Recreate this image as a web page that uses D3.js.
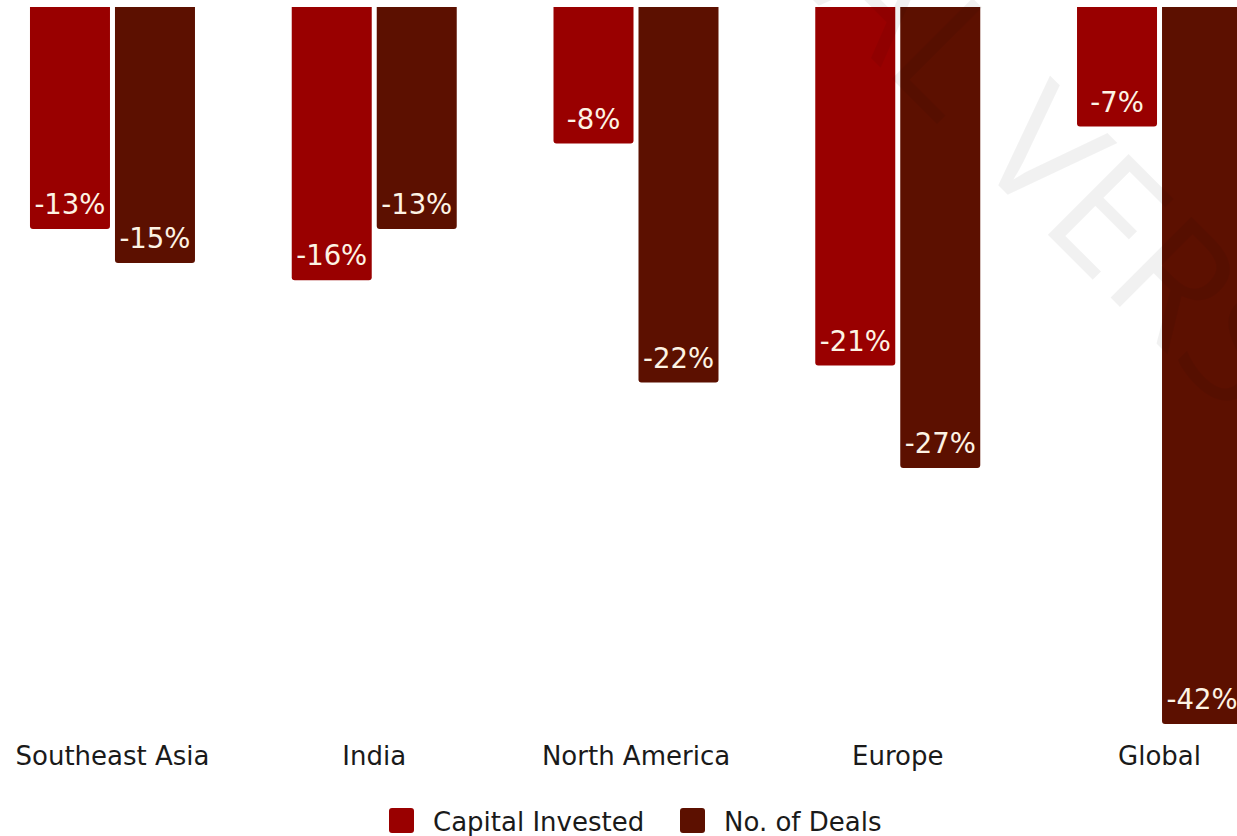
<!DOCTYPE html>
<html>
<head>
<meta charset="utf-8">
<script src="https://cdn.jsdelivr.net/npm/d3@7"></script>
<style>
  html, body { margin: 0; padding: 0; background: #fff; overflow: hidden; }
  svg { display: block; font-family: "DejaVu Sans", Verdana, sans-serif; }
</style>
</head>
<body>
<svg id="chart" width="1237" height="836"></svg>
<script>
const categories = ["Southeast Asia", "India", "North America", "Europe", "Global"];
const seriesNames = ["Capital Invested", "No. of Deals"];
const capitalInvested = [-13, -16, -8, -21, -7];
const numberOfDeals = [-15, -13, -22, -27, -42];
const seriesColors = ["#990000", "#5c1000"];

const svg = d3.select("#chart");

const seriesValues = [capitalInvested, numberOfDeals];
const data = categories.map((c, i) => ({
  category: c,
  values: seriesNames.map((s, j) => ({ series: s, value: seriesValues[j][i], color: seriesColors[j] }))
}));

const x0 = d3.scaleBand().domain(categories).range([-18.4, 1290.4]).paddingInner(0).paddingOuter(0);
const groupW = 165;
const x1 = d3.scaleBand().domain(seriesNames).range([0, groupW]).paddingInner(5 / 85).paddingOuter(0);
const minVal = d3.min(seriesValues.flat());
const y = d3.scaleLinear().domain([0, minVal]).range([7, 724]);

const r = 3;
function barPath(x, w, y0, y1) {
  return `M${x},${y0}H${x + w}V${y1 - r}Q${x + w},${y1} ${x + w - r},${y1}H${x + r}Q${x},${y1} ${x},${y1 - r}Z`;
}

const groups = svg.append("g").selectAll("g.grp").data(data).join("g")
  .attr("class", "grp")
  .attr("transform", d => `translate(${x0(d.category) + x0.bandwidth() / 2 - groupW / 2},0)`);

groups.selectAll("path.bar").data(d => d.values).join("path")
  .attr("class", "bar")
  .attr("d", d => barPath(x1(d.series), x1.bandwidth(), y(0), y(d.value)))
  .attr("fill", d => d.color);

groups.selectAll("text.lbl").data(d => d.values).join("text")
  .attr("class", "lbl")
  .attr("x", d => x1(d.series) + x1.bandwidth() / 2)
  .attr("y", d => y(d.value) - 15)
  .attr("text-anchor", "middle")
  .attr("font-size", 27.5)
  .attr("fill", "#fdf3e4")
  .text(d => d.value + "%");

// x axis labels
const axis = d3.axisBottom(x0).tickSize(0).tickPadding(0);
const ax = svg.append("g").call(axis);
ax.select(".domain").remove();
ax.selectAll("text")
  .attr("y", 765).attr("dy", 0)
  .attr("font-size", 26)
  .attr("font-family", "DejaVu Sans, Verdana, sans-serif")
  .attr("fill", "#1a1a1a");

// legend
const legend = svg.append("g");
const legendX = [389, 680];
seriesNames.forEach((s, i) => {
  const g = legend.append("g").attr("transform", `translate(${legendX[i]},808)`);
  g.append("rect").attr("width", 25).attr("height", 25).attr("rx", 3).attr("fill", seriesColors[i]);
  g.append("text").attr("x", 44).attr("y", 23).attr("font-size", 26).attr("fill", "#1a1a1a").text(s);
});

// watermark (positioned so the "V" vertex sits where it does in the reference)
const wm = svg.append("text")
  .attr("font-size", 160)
  .attr("font-family", "'Open Sans', 'DejaVu Sans', sans-serif")
  .attr("font-weight", 400)
  .attr("fill", "#000")
  .attr("fill-opacity", 0.055)
  .text("TRIAL VERSION");
const node = wm.node();
const ext = node.getExtentOfChar(6);
const vCenter = ext.x + ext.width / 2;
wm.attr("transform", `translate(1003,190) rotate(45) translate(${-vCenter},0)`);
</script>
</body>
</html>
